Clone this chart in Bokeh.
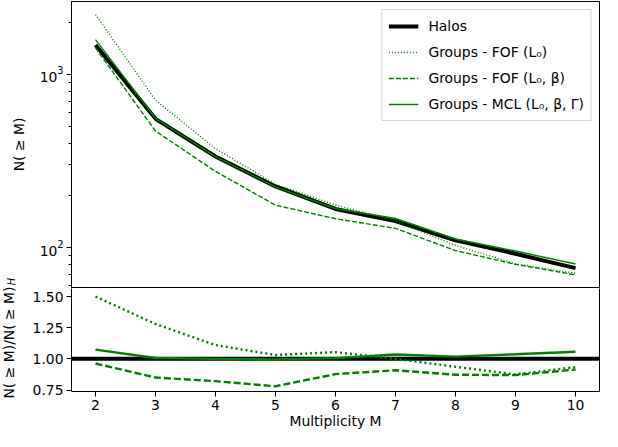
import numpy as np
from math import pi
from bokeh.plotting import figure
from bokeh.layouts import row, column
from bokeh.models import (Range1d, FixedTicker, Legend, LegendItem, Span, Label,
                          PrintfTickFormatter, LinearAxis)
from bokeh.embed import file_html
from bokeh.resources import INLINE

# ---------------- data ----------------
multiplicity = [2, 3, 4, 5, 6, 7, 8, 9, 10]
halos = [1475, 553, 335, 225, 167, 142, 110, 92, 76]
groups_fof_l0 = [2213, 708, 372, 232, 176, 142, 103, 80.5, 71]
groups_fof_l0_beta = [1420, 470, 275, 175.5, 146.6, 129, 96, 80, 69.5]
groups_mcl = [1584, 557, 335, 224, 168, 147, 112, 95.4, 80.3]

x_ticks = [2, 3, 4, 5, 6, 7, 8, 9, 10]
y_major_ticks = [100, 1000]
y_minor_ticks = [60, 70, 80, 90, 200, 300, 400, 500, 600, 700, 800, 900, 2000]
ratio_ticks = [0.75, 1.0, 1.25, 1.5]

ratio_fof_l0 = np.array(groups_fof_l0) / np.array(halos)
ratio_fof_l0_beta = np.array(groups_fof_l0_beta) / np.array(halos)
ratio_mcl = np.array(groups_mcl) / np.array(halos)

FONT = "DejaVu Sans"
FS = "13.9px"
GREEN = "#008000"


def style_axes(p):
    p.grid.visible = False
    for ax in p.axis:
        ax.axis_line_color = "black"
        ax.major_tick_line_color = "black"
        ax.minor_tick_line_color = "black"
        ax.major_tick_out = 5
        ax.major_tick_in = 0
        ax.minor_tick_out = 3
        ax.minor_tick_in = 0
        ax.major_label_text_font = FONT
        ax.major_label_text_font_size = FS
        ax.major_label_text_color = "black"
        ax.major_label_standoff = 3
        ax.axis_label_text_font = FONT
        ax.axis_label_text_font_size = FS
        ax.axis_label_text_font_style = "normal"
        ax.axis_label_text_color = "black"


x_range = Range1d(1.6, 10.4)

# ---------------- top panel ----------------
top = figure(width=572, height=288, x_range=x_range, y_range=Range1d(58, 2630),
             y_axis_type="log", x_axis_location=None,
             output_backend="svg", toolbar_location=None,
             min_border_left=42, min_border_right=2, min_border_top=1,
             min_border_bottom=0)
style_axes(top)
top.outline_line_color = "black"
top.outline_line_width = 1
top.outline_line_alpha = 1
top.yaxis.ticker = FixedTicker(ticks=y_major_ticks, minor_ticks=y_minor_ticks)

r_h = top.line(multiplicity, halos, line_color="black", line_width=4)
r_f = top.line(multiplicity, groups_fof_l0, line_color=GREEN, line_width=1.4,
               line_dash="1 2")
r_fb = top.line(multiplicity, groups_fof_l0_beta, line_color=GREEN, line_width=1.4,
                line_dash="5 2")
r_m = top.line(multiplicity, groups_mcl, line_color=GREEN, line_width=1.4)

legend = Legend(items=[
    LegendItem(label="Halos", renderers=[r_h]),
    LegendItem(label="Groups - FOF (L₀)", renderers=[r_f]),
    LegendItem(label="Groups - FOF (L₀, β)", renderers=[r_fb]),
    LegendItem(label="Groups - MCL (L₀, β, Γ)", renderers=[r_m]),
], location="top_right")
legend.label_text_font = FONT
legend.label_text_font_size = FS
legend.label_text_color = "black"
legend.border_line_color = "#cccccc"
legend.border_line_alpha = 0.8
legend.background_fill_alpha = 0.8
legend.glyph_width = 30
legend.glyph_height = 20
legend.label_height = 20
legend.label_standoff = 10
legend.spacing = 6
legend.padding = 6
legend.margin = 8
top.add_layout(legend)

# ---------------- bottom panel ----------------
bot = figure(width=572, height=143, x_range=x_range, y_range=Range1d(0.738, 1.565),
             output_backend="svg", toolbar_location=None,
             min_border_left=42, min_border_right=2, min_border_top=0,
             min_border_bottom=20)
# the top edge of this panel is the top panel's lower frame edge; the right
# edge is drawn by a bare axis so that the divider stays a single thin line
bot.outline_line_color = None
right_edge = LinearAxis(ticker=FixedTicker(ticks=[]))
bot.add_layout(right_edge, "right")
style_axes(bot)
right_edge.major_tick_out = 0
right_edge.minor_tick_out = 0
right_edge.major_label_standoff = 0
right_edge.major_label_text_font_size = "0px"
bot.xaxis.ticker = FixedTicker(ticks=x_ticks)
bot.xaxis.minor_tick_out = 0
bot.yaxis[0].ticker = FixedTicker(ticks=ratio_ticks)
bot.yaxis[0].formatter = PrintfTickFormatter(format="%.2f")
bot.yaxis[0].minor_tick_out = 0
bot.xaxis.axis_label = "Multiplicity M"
bot.xaxis.axis_label_standoff = 0

bot.add_layout(Span(location=1.0, dimension="width", line_color="black",
                    line_width=4, level="underlay"))
bot.line(multiplicity, ratio_fof_l0, line_color=GREEN, line_width=2.4, line_dash="2 3")
bot.line(multiplicity, ratio_fof_l0_beta, line_color=GREEN, line_width=2.4, line_dash="7 3")
bot.line(multiplicity, ratio_mcl, line_color=GREEN, line_width=2.4)

# ---------------- y-label strip ----------------
lab = figure(width=29, height=431, x_range=Range1d(8, 37), y_range=Range1d(439, 8),
             x_axis_location=None, y_axis_location=None, min_border=0,
             outline_line_color=None, output_backend="svg", toolbar_location=None)
lab.grid.visible = False
lab.add_layout(Label(x=26, y=152, text="N( ≥ M)", angle=pi / 2,
                     text_align="center", text_baseline="middle",
                     text_font=FONT, text_font_size=FS, text_color="black"))
lab.add_layout(Label(x=16, y=350, text="N( ≥ M)/N( ≥ M)", angle=pi / 2,
                     text_align="center", text_baseline="middle",
                     text_font=FONT, text_font_size=FS, text_color="black"))
lab.add_layout(Label(x=19, y=289, text="H", angle=pi / 2,
                     text_align="center", text_baseline="middle",
                     text_font=FONT, text_font_size="9.7px",
                     text_font_style="italic", text_color="black"))

layout = row(lab, column(top, bot))

open("out.html", "w").write(file_html(layout, INLINE))
